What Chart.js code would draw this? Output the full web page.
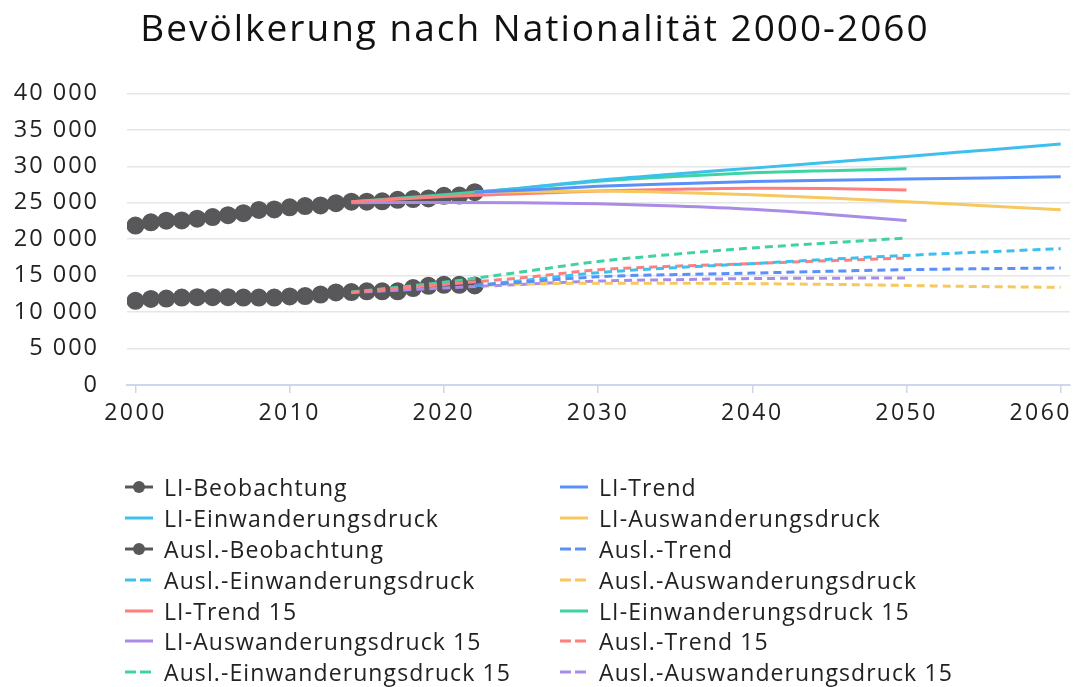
<!DOCTYPE html>
<html>
<head>
<meta charset="utf-8">
<script src="https://cdn.jsdelivr.net/npm/chart.js@4.4.0/dist/chart.umd.min.js"></script>
<style>
  body { margin: 0; background: #fff; }
  #wrap { position: relative; width: 1083px; height: 687px; }
  #legend { position: absolute; left: 125px; top: 472px; display: grid;
    grid-template-columns: 435px 480px; grid-auto-rows: 30.8px;
    font-family: 'Open Sans', sans-serif; font-size: 23px; letter-spacing: 1.1px; color: #222; }
  .item { display: flex; align-items: center; white-space: nowrap; }
  .item canvas { margin-right: 9px; }
</style>
</head>
<body>
<div id="wrap">
  <canvas id="chart" width="1083" height="687"></canvas>
  <div id="legend"></div>
</div>
<script>
// observed years and values
const obsYears = [2000, 2001, 2002, 2003, 2004, 2005, 2006, 2007, 2008, 2009, 2010, 2011,
  2012, 2013, 2014, 2015, 2016, 2017, 2018, 2019, 2020, 2021, 2022];
const liObs = [21870, 22310, 22540, 22580, 22810, 23040, 23290, 23570, 24020, 24090, 24370, 24550,
  24630, 24940, 25150, 25150, 25200, 25400, 25500, 25600, 25950, 25980, 26450];
const auslObs = [11550, 11800, 11850, 12000, 12050, 12050, 12050, 12000, 12000, 12000, 12150, 12200,
  12400, 12700, 12750, 12850, 12850, 12850, 13300, 13600, 13750, 13750, 13650];

// scenarios from 2022
const projYears = [2022, 2025, 2030, 2035, 2040, 2045, 2050, 2055, 2060];
const liTrend = [26450, 26700, 27250, 27600, 27900, 28100, 28250, 28400, 28550];
const liEin = [26450, 27000, 28100, 28950, 29750, 30550, 31350, 32200, 33050];
const liAus = [26450, 26500, 26600, 26400, 26100, 25650, 25150, 24600, 24050];
const auslTrend = [13650, 14100, 14850, 15150, 15350, 15600, 15820, 15950, 16050];
const auslEin = [13650, 14300, 15400, 16100, 16650, 17250, 17780, 18250, 18700];
const auslAus = [13650, 13850, 13950, 13950, 13900, 13800, 13650, 13500, 13400];

// scenarios "15" from 2014
const years15 = [2014, 2020, 2025, 2030, 2035, 2040, 2045, 2050];
const liTrend15 = [25150, 25850, 26250, 26600, 26850, 27000, 26950, 26750];
const liEin15 = [25150, 26100, 27000, 27950, 28600, 29100, 29400, 29650];
const liAus15 = [25000, 25050, 25000, 24850, 24550, 24100, 23400, 22550];
const auslTrend15 = [12700, 13800, 14700, 15800, 16300, 16650, 17050, 17420];
const auslEin15 = [12750, 14100, 15500, 16950, 17950, 18800, 19500, 20160];
const auslAus15 = [12700, 13300, 13800, 14250, 14450, 14600, 14650, 14680];

const xTicks = [2000, 2010, 2020, 2030, 2040, 2050, 2060];

const GREY = '#58585a', BLUE = '#5b8ff9', CYAN = '#3ec0ee', YELLOW = '#f6c85f',
  GREEN = '#3fd3a4', RED = '#ff7f7f', PURPLE = '#a98be8';
const DASH = [8, 5];

function pts(xs, ys) { return xs.map((x, i) => ({ x: x, y: ys[i] })); }

function obsSet(label, ys) {
  return { label: label, data: pts(obsYears, ys), borderColor: GREY, backgroundColor: GREY,
    borderWidth: 3, pointRadius: 7.5, pointHoverRadius: 7.5, order: 10, kind: 'obs' };
}
function lineSet(label, xs, ys, color, dashed) {
  return { label: label, data: pts(xs, ys), borderColor: color, backgroundColor: color,
    borderWidth: 3, pointRadius: 0, borderDash: dashed ? DASH : [], cubicInterpolationMode: 'monotone',
    order: 0, kind: dashed ? 'dash' : 'line' };
}

const datasets = [
  obsSet('LI-Beobachtung', liObs),
  lineSet('LI-Trend', projYears, liTrend, BLUE, false),
  lineSet('LI-Einwanderungsdruck', projYears, liEin, CYAN, false),
  lineSet('LI-Auswanderungsdruck', projYears, liAus, YELLOW, false),
  obsSet('Ausl.-Beobachtung', auslObs),
  lineSet('Ausl.-Trend', projYears, auslTrend, BLUE, true),
  lineSet('Ausl.-Einwanderungsdruck', projYears, auslEin, CYAN, true),
  lineSet('Ausl.-Auswanderungsdruck', projYears, auslAus, YELLOW, true),
  lineSet('LI-Trend 15', years15, liTrend15, RED, false),
  lineSet('LI-Einwanderungsdruck 15', years15, liEin15, GREEN, false),
  lineSet('LI-Auswanderungsdruck 15', years15, liAus15, PURPLE, false),
  lineSet('Ausl.-Trend 15', years15, auslTrend15, RED, true),
  lineSet('Ausl.-Einwanderungsdruck 15', years15, auslEin15, GREEN, true),
  lineSet('Ausl.-Auswanderungsdruck 15', years15, auslAus15, PURPLE, true)
];

function fmt(v) { return String(v).replace(/\B(?=(\d{3})+(?!\d))/g, ' '); }

// wider text, the original font runs wide
const spacing = {
  id: 'spacing',
  beforeLayout(chart) { chart.ctx.letterSpacing = '2px'; }
};

// x labels drawn from the scale, last one kept inside the canvas
const xLabels = {
  id: 'xLabels',
  afterDraw(chart) {
    const sc = chart.scales.x, ctx = chart.ctx;
    ctx.save();
    ctx.letterSpacing = '2.5px';
    ctx.font = '23px "Open Sans", sans-serif';
    ctx.fillStyle = '#222';
    ctx.textAlign = 'center';
    ctx.textBaseline = 'middle';
    sc.ticks.forEach(t => {
      const label = String(t.value);
      const w = ctx.measureText(label).width;
      let x = sc.getPixelForValue(t.value);
      if (x + w / 2 > chart.width - 11) x = chart.width - 11 - w / 2;
      ctx.fillText(label, x, sc.top + 28);
    });
    ctx.restore();
  }
};

const chart = new Chart(document.getElementById('chart'), {
  type: 'line',
  data: { datasets: datasets },
  plugins: [spacing, xLabels],
  options: {
    responsive: false,
    animation: false,
    devicePixelRatio: 1,
    layout: { padding: { left: 0, right: 13, top: 0, bottom: 252 } },
    plugins: {
      legend: { display: false },
      tooltip: { enabled: false },
      title: { display: true, text: 'Bevölkerung nach Nationalität 2000-2060', color: '#111',
        font: { family: 'Open Sans', size: 37, weight: '500' }, padding: { top: 8, bottom: 41 } }
    },
    scales: {
      x: {
        type: 'linear', min: 1999.45, max: 2060.6,
        afterBuildTicks: s => { s.ticks = xTicks.map(v => ({ value: v })); },
        afterFit: s => { s.height = 50; s.paddingLeft = 0; s.paddingRight = 0; },
        ticks: { display: false },
        grid: { drawOnChartArea: false, drawTicks: true, tickLength: 8, color: '#cdd6ec', lineWidth: 1.5 },
        border: { color: '#cdd6ec', width: 2 }
      },
      y: {
        min: 0, max: 40000,
        afterFit: s => { s.width = 127; },
        ticks: { stepSize: 5000, padding: 28, color: '#222', callback: v => fmt(v),
          font: { family: 'Open Sans', size: 23.5 } },
        grid: { color: '#e6e6e6', drawTicks: false, lineWidth: 1.5 },
        border: { display: false }
      }
    }
  }
});

// legend in two columns
const legend = document.getElementById('legend');
datasets.forEach(ds => {
  const item = document.createElement('div');
  item.className = 'item';
  const c = document.createElement('canvas');
  c.width = 30; c.height = 16;
  const g = c.getContext('2d');
  g.strokeStyle = ds.borderColor; g.fillStyle = ds.borderColor; g.lineWidth = 3;
  if (ds.kind === 'dash') g.setLineDash([11, 4]);
  g.beginPath(); g.moveTo(0, 8); g.lineTo(28, 8); g.stroke();
  if (ds.kind === 'obs') { g.beginPath(); g.arc(14, 8, 6, 0, Math.PI * 2); g.fill(); }
  const span = document.createElement('span');
  span.textContent = ds.label;
  item.appendChild(c); item.appendChild(span);
  legend.appendChild(item);
});
</script>
</body>
</html>
